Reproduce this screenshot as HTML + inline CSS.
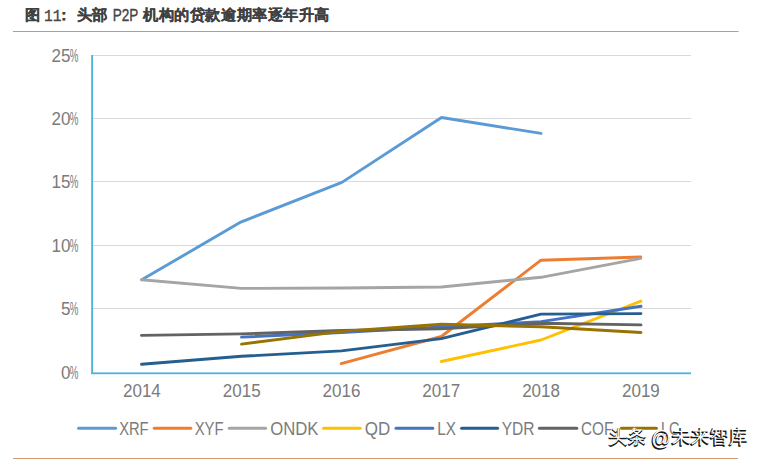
<!DOCTYPE html>
<html><head><meta charset="utf-8">
<style>
html,body{margin:0;padding:0;background:#fff;}
body{width:761px;height:461px;overflow:hidden;position:relative;}
svg{position:absolute;left:0;top:0;}
text{font-family:"Liberation Sans",sans-serif;}
</style></head>
<body>
<svg width="761" height="461" viewBox="0 0 761 461">
  <g fill="#404040" font-size="16.5" font-weight="bold" stroke="#404040" stroke-width="0.2" transform="matrix(1,0,0,0.92,0,0.2)">
    <text x="24.8" y="21" textLength="15.5" lengthAdjust="spacingAndGlyphs">图</text>
    <text x="56.5" y="21.8" textLength="16" lengthAdjust="spacingAndGlyphs">：</text>
    <text x="76.6" y="21" textLength="31.5" lengthAdjust="spacingAndGlyphs">头部</text>
    <text x="143.3" y="21" textLength="186.5" lengthAdjust="spacingAndGlyphs">机构的贷款逾期率逐年升高</text>
  </g>
  <g fill="#454545" font-size="16" stroke="#454545" stroke-width="0.35" style="font-family:'Liberation Mono',monospace">
    <text x="44" y="21" font-size="17" style="font-family:'Liberation Mono',monospace" textLength="17.5" lengthAdjust="spacingAndGlyphs">11</text>
    <text x="112.8" y="20.8" font-size="15.7" style="font-family:'Liberation Sans',sans-serif" textLength="25.6" lengthAdjust="spacingAndGlyphs">P2P</text>
  </g>
  <rect x="13" y="31" width="725.5" height="1" fill="#cf9a62"/>
  <rect x="13" y="458" width="725" height="1" fill="#d19a70"/>

  <g fill="#d9d9d9">
    <rect x="92" y="55" width="599" height="1"/>
    <rect x="92" y="118" width="599" height="1"/>
    <rect x="92" y="181" width="599" height="1"/>
    <rect x="92" y="245" width="599" height="1"/>
    <rect x="92" y="308" width="599" height="1"/>
  </g>
  <rect x="91.2" y="55" width="1.8" height="319" fill="#4cb2dc"/>
  <rect x="91.2" y="372.4" width="599.8" height="1.8" fill="#4cb2dc"/>

  <g fill="#7b7b7b">
    <text x="69.87" y="62" font-size="18.3" textLength="8.62" lengthAdjust="spacingAndGlyphs">%</text>
    <text x="51.45" y="62" font-size="18.3" textLength="18.93" lengthAdjust="spacingAndGlyphs">25</text>
    <text x="69.87" y="125" font-size="18.3" textLength="8.62" lengthAdjust="spacingAndGlyphs">%</text>
    <text x="51.45" y="125" font-size="18.3" textLength="18.93" lengthAdjust="spacingAndGlyphs">20</text>
    <text x="69.87" y="188" font-size="18.3" textLength="8.62" lengthAdjust="spacingAndGlyphs">%</text>
    <text x="51.45" y="188" font-size="18.3" textLength="18.93" lengthAdjust="spacingAndGlyphs">15</text>
    <text x="69.87" y="252" font-size="18.3" textLength="8.62" lengthAdjust="spacingAndGlyphs">%</text>
    <text x="51.45" y="252" font-size="18.3" textLength="18.93" lengthAdjust="spacingAndGlyphs">10</text>
    <text x="69.87" y="315" font-size="18.3" textLength="8.62" lengthAdjust="spacingAndGlyphs">%</text>
    <text x="60.91" y="315" font-size="18.3" textLength="9.46" lengthAdjust="spacingAndGlyphs">5</text>
    <text x="69.87" y="379" font-size="18.3" textLength="8.62" lengthAdjust="spacingAndGlyphs">%</text>
    <text x="60.91" y="379" font-size="18.3" textLength="9.46" lengthAdjust="spacingAndGlyphs">0</text>
  </g>
  <g fill="#7b7b7b">
    <text x="122.97" y="397" font-size="18.3" textLength="37.85" lengthAdjust="spacingAndGlyphs">2014</text>
    <text x="222.77" y="397" font-size="18.3" textLength="37.85" lengthAdjust="spacingAndGlyphs">2015</text>
    <text x="322.57" y="397" font-size="18.3" textLength="37.85" lengthAdjust="spacingAndGlyphs">2016</text>
    <text x="422.37" y="397" font-size="18.3" textLength="37.85" lengthAdjust="spacingAndGlyphs">2017</text>
    <text x="522.17" y="397" font-size="18.3" textLength="37.85" lengthAdjust="spacingAndGlyphs">2018</text>
    <text x="621.97" y="397" font-size="18.3" textLength="37.85" lengthAdjust="spacingAndGlyphs">2019</text>
  </g>

  <g fill="none" stroke-width="2.9" stroke-linecap="round" stroke-linejoin="round">
    <polyline stroke="#5b9bd5" points="141.7,279.8 240.8,222.1 341.9,182.4 441.5,117.5 541,133.4"/>
    <polyline stroke="#ed7d31" points="341.2,363.6 441.3,336.5 541,260.2 640.8,257"/>
    <polyline stroke="#a5a5a5" points="141.7,279.8 241.5,288.4 341.5,288 441.3,287 541,277.3 640.8,258.4"/>
    <polyline stroke="#ffc000" points="441.2,361.5 541,340 641,301.2"/>
    <polyline stroke="#4472c4" points="241.5,337.1 341.5,332.5 441.3,326.9 541,321.6 641,306.3"/>
    <polyline stroke="#255e91" points="141.5,364.3 241.5,356.3 341.5,350.9 441.3,338.6 541,314.1 641,313.6"/>
    <polyline stroke="#636363" points="141.5,335.4 241.5,333.9 341.5,330.5 441.3,328.7 541,323.2 641,324.9"/>
    <polyline stroke="#997300" points="241.5,344.1 341.5,331.4 441.3,324.2 541,326.8 641,332.5"/>
  </g>

  <g stroke-width="3" stroke-linecap="round">
    <line x1="78.6" y1="428.3" x2="115.6" y2="428.3" stroke="#5b9bd5"/>
    <line x1="154.2" y1="428.3" x2="190.8" y2="428.3" stroke="#ed7d31"/>
    <line x1="229.2" y1="428.3" x2="265.6" y2="428.3" stroke="#a5a5a5"/>
    <line x1="323.6" y1="428.3" x2="360.2" y2="428.3" stroke="#ffc000"/>
    <line x1="396.0" y1="428.3" x2="432.8" y2="428.3" stroke="#4472c4"/>
    <line x1="461.6" y1="428.3" x2="497.6" y2="428.3" stroke="#255e91"/>
    <line x1="539.4" y1="428.3" x2="576.8" y2="428.3" stroke="#636363"/>
    <line x1="621.4" y1="428.3" x2="656.4" y2="428.3" stroke="#997300"/>
  </g>
  <g font-size="18.5" fill="#7b7b7b">
    <text x="119.16" y="434.8" textLength="29.43" lengthAdjust="spacingAndGlyphs">XRF</text>
    <text x="194.65" y="434.8" textLength="28.97" lengthAdjust="spacingAndGlyphs">XYF</text>
    <text x="270.26" y="434.8" textLength="48.26" lengthAdjust="spacingAndGlyphs">ONDK</text>
    <text x="364.75" y="434.8" textLength="25.50" lengthAdjust="spacingAndGlyphs">QD</text>
    <text x="437.18" y="434.8" textLength="18.68" lengthAdjust="spacingAndGlyphs">LX</text>
    <text x="501.73" y="434.8" textLength="32.87" lengthAdjust="spacingAndGlyphs">YDR</text>
    <text x="581.03" y="434.8" textLength="32.40" lengthAdjust="spacingAndGlyphs">COF</text>
    <text x="661.05" y="434.8" textLength="18.45" lengthAdjust="spacingAndGlyphs">LC</text>
  </g>

  <g id="wm">
  <g fill="#fff" stroke="#fff" stroke-width="2" stroke-linejoin="round">
    <text x="607.9" y="443.9" font-size="19">头条</text>
    <text x="650.7" y="445.6" font-size="19.4">@</text>
    <text x="671.5" y="443.9" font-size="19">未来智库</text>
  </g>
  <g fill="#111" stroke="#111" stroke-width="0.9" stroke-linejoin="round" transform="translate(-0.3,0.3)">
    <text x="607.9" y="443.9" font-size="19">头条</text>
    <text x="650.7" y="445.6" font-size="19.4">@</text>
    <text x="671.5" y="443.9" font-size="19">未来智库</text>
  </g>
  <g fill="#fff" transform="translate(0.6,-0.6)">
    <text x="607.9" y="443.9" font-size="19">头条</text>
    <text x="650.7" y="445.6" font-size="19.4">@</text>
    <text x="671.5" y="443.9" font-size="19">未来智库</text>
  </g>
  </g>
</svg>
</body></html>
